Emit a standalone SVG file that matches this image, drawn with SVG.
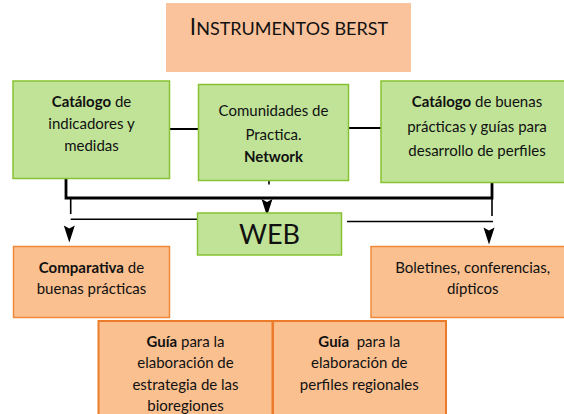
<svg xmlns="http://www.w3.org/2000/svg" xmlns:xlink="http://www.w3.org/1999/xlink" width="564" height="414" viewBox="0 0 564 414">
  <style>
    text { font-family: Lato, "Liberation Sans", sans-serif; font-size: 15px; fill: #111; text-anchor: middle; }
    .b { font-weight: bold; }
    .web { font-size: 27px; }
    .t1 { font-size: 22.5px; }
    .t2 { font-size: 18px; }
    .green { fill: #C0E398; stroke: #86C232; stroke-width: 1.5; }
    .orange { fill: #FAC090; stroke: #F08A3A; stroke-width: 1.5; }
    .orange2 { fill: #FAC090; stroke: #EC7C2A; stroke-width: 2; }
    .thick { fill: none; stroke: #000; stroke-width: 2.8; }
    .thin { fill: none; stroke: #000; stroke-width: 1.6; }
    .mid { fill: none; stroke: #000; stroke-width: 2; }
  </style>
  <defs>
    <path id="ah" d="M-5.5,0 L0,3 L5.5,0 L0,17 Z" fill="#000"/>
  </defs>
  <rect width="564" height="414" fill="#fff"/>

  <g id="title">
    <rect x="166" y="3" width="245" height="69" fill="#FBC39B"/>
    <text x="289" y="34.5"><tspan class="t1">I</tspan><tspan class="t2">NSTRUMENTOS BERST</tspan></text>
  </g>

  <g id="connectors">
    <line class="mid" x1="170" y1="129" x2="198" y2="129"/>
    <line class="mid" x1="349" y1="128" x2="381" y2="128"/>
    <path class="thick" d="M66,178 V198 H492 V182"/>
    <line x1="269" y1="181" x2="269" y2="184.5" stroke="#000" stroke-width="1.6"/>
    <use xlink:href="#ah" x="267" y="199"/>
    <path class="thin" d="M70.7,198.5 V214 M70.7,219.3 H198"/>
    <use xlink:href="#ah" x="69.3" y="225.5"/>
    <path class="thin" d="M492,198 V216 M347,221.5 H493"/>
    <use xlink:href="#ah" x="489" y="227.5"/>
  </g>

  <g id="catalogo-indicadores">
    <rect class="green" x="13" y="81" width="156.5" height="97.5"/>
    <text x="91.5" y="107"><tspan class="b">Catálogo</tspan> de</text>
    <text x="91.5" y="129">indicadores y</text>
    <text x="91.5" y="151">medidas</text>
  </g>

  <g id="comunidades">
    <rect class="green" x="198.5" y="84.5" width="150" height="96"/>
    <text x="273.5" y="116">Comunidades de</text>
    <text x="273.5" y="140">Practica.</text>
    <text x="273.5" y="162" class="b">Network</text>
  </g>

  <g id="catalogo-buenas">
    <rect class="green" x="381" y="81" width="192" height="101.5"/>
    <text x="477" y="107"><tspan class="b">Catálogo</tspan> de buenas</text>
    <text x="477" y="132">prácticas y guías para</text>
    <text x="477" y="156">desarrollo de perfiles</text>
  </g>

  <g id="web">
    <rect class="green" x="197.5" y="213" width="144" height="42"/>
    <text x="269.5" y="243.5" class="web">WEB</text>
  </g>

  <g id="comparativa">
    <rect class="orange" x="13.5" y="246.5" width="156" height="71"/>
    <text x="91.5" y="272.7"><tspan class="b">Comparativa</tspan> de</text>
    <text x="91.5" y="294">buenas prácticas</text>
  </g>

  <g id="boletines">
    <rect class="orange" x="371" y="246.5" width="204" height="71"/>
    <text x="472.7" y="272.7">Boletines, conferencias,</text>
    <text x="472.7" y="294">dípticos</text>
  </g>

  <g id="guia-estrategia">
    <rect class="orange2" x="98.5" y="321" width="174" height="100"/>
    <text x="185.5" y="346.7"><tspan class="b">Guía</tspan> para la</text>
    <text x="185.5" y="368.3">elaboración de</text>
    <text x="185.5" y="390">estrategia de las</text>
    <text x="185.5" y="410.7">bioregiones</text>
  </g>

  <g id="guia-perfiles">
    <rect class="orange2" x="273" y="321" width="173" height="100"/>
    <text x="359.3" y="346.7" xml:space="preserve"><tspan class="b">Guía</tspan>  para la</text>
    <text x="359.3" y="368.3">elaboración de</text>
    <text x="359.3" y="390">perfiles regionales</text>
  </g>
</svg>
